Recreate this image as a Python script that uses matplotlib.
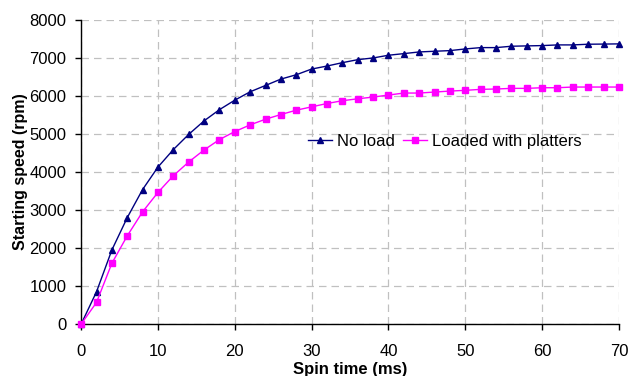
import matplotlib
matplotlib.use("Agg")
import matplotlib.pyplot as plt
import numpy as np

plt.rcParams['font.family'] = ['Liberation Sans', 'DejaVu Sans']

spin_time = list(range(0, 72, 2))
no_load = [0, 850, 1950, 2800, 3540, 4130, 4590, 4990, 5345, 5640, 5890, 6110,
           6277, 6444, 6558, 6708, 6787, 6876, 6955, 7000, 7071, 7114, 7158, 7176,
           7193, 7237, 7272, 7272, 7308, 7317, 7325, 7343, 7343, 7361, 7365, 7370]
loaded = [0, 570, 1600, 2321, 2954, 3464, 3903, 4264, 4580, 4853, 5064, 5240,
          5389, 5512, 5626, 5714, 5802, 5875, 5926, 5971, 6024, 6077, 6077, 6103,
          6129, 6148, 6174, 6183, 6200, 6200, 6217, 6217, 6235, 6235, 6235, 6235]

fig = plt.figure(figsize=(6.29, 3.76), dpi=100)
ax = fig.add_axes([0.129, 0.138, 0.855, 0.809])

ax.plot(spin_time, no_load, color='#000080', marker='^', markersize=5, linewidth=1,
        label='No load', clip_on=False, zorder=3)
ax.plot(spin_time, loaded, color='#FF00FF', marker='s', markersize=4.5, linewidth=1,
        label='Loaded with platters', clip_on=False, zorder=3)

ax.set_xlim(0, 70)
ax.set_ylim(0, 8000)
ax.set_xticks(range(0, 71, 10))
ax.set_yticks(range(0, 8001, 1000))
ax.grid(True, color='#c0c0c0', linestyle=(0, (6, 4)), linewidth=0.9)
ax.set_axisbelow(True)
for s in ['top', 'right']:
    ax.spines[s].set_visible(False)
for s in ['left', 'bottom']:
    ax.spines[s].set_color('black')
    ax.spines[s].set_linewidth(1)
ax.tick_params(direction='out', length=4, width=1, labelsize=12)
ax.tick_params(axis='x', pad=10)
ax.tick_params(axis='y', pad=6.5)
ax.set_xlabel('Spin time (ms)', fontsize=12, fontweight='bold', labelpad=2.5)
ax.set_ylabel('Starting speed (rpm)', fontsize=11.5, fontweight='bold', labelpad=1)

ax.legend(loc='center left', bbox_to_anchor=(0.421, 0.6), frameon=False, ncol=2,
          fontsize=12, handlelength=1.45, handletextpad=0.3, columnspacing=0.5,
          borderpad=0, borderaxespad=0)

fig.savefig('out.png', dpi=100)
